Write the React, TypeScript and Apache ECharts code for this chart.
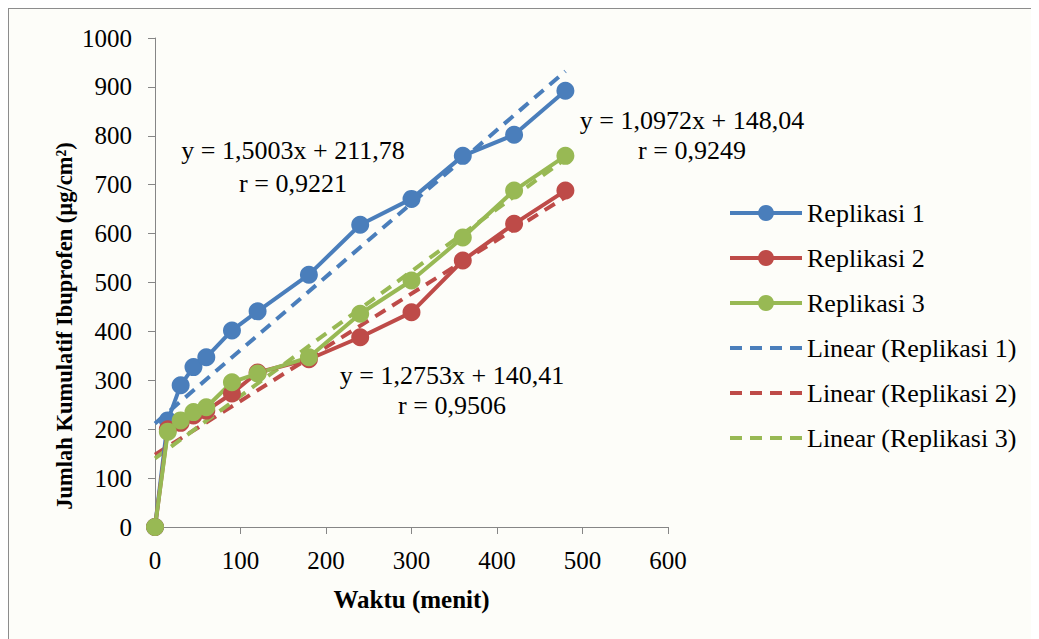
import React, { useEffect, useRef } from "react";
import * as echarts from "echarts";

const times = [0, 15, 30, 45, 60, 90, 120, 180, 240, 300, 360, 420, 480];
const replikasi1 = [0, 218, 290, 327, 347, 402, 441, 516, 618, 671, 759, 802, 892];
const replikasi2 = [0, 200, 213, 228, 238, 273, 316, 343, 388, 439, 545, 620, 688];
const replikasi3 = [0, 195, 218, 235, 245, 296, 314, 347, 436, 504, 592, 688, 759];

// trend line coefficients (slope, intercept) as printed on the chart
const fit1 = [1.5003, 211.78];
const fit2 = [1.0972, 148.04];
const fit3 = [1.2753, 140.41];
const fitRange = [0, 480];

const labels1 = ["y = 1,5003x + 211,78", "r = 0,9221"];
const labels2 = ["y = 1,0972x + 148,04", "r = 0,9249"];
const labels3 = ["y = 1,2753x + 140,41", "r = 0,9506"];
const yTitle = "Jumlah Kumulatif Ibuprofen (µg/cm²)";
const xTitle = "Waktu (menit)";

const BLUE = "#4a7ebb";
const RED = "#be4b48";
const GREEN = "#98b954";
const FONT = "Liberation Serif, Times New Roman, serif";

const pairs = (ys: number[]) => times.map((t, i) => [t, ys[i]]);
const fitLine = (f: number[]) => fitRange.map((x) => [x, f[0] * x + f[1]]);

export default function App() {
  const ref = useRef<HTMLDivElement>(null);
  useEffect(() => {
    if (!ref.current) return;
    const chart = echarts.init(ref.current, undefined, { renderer: "svg" });
    const solid = (name: string, color: string, ys: number[]) => ({
      name,
      type: "line",
      data: pairs(ys),
      symbol: "circle",
      symbolSize: 18,
      itemStyle: { color },
      lineStyle: { color, width: 4 },
      z: 3,
    });
    const dashed = (name: string, color: string, f: number[]) => ({
      name,
      type: "line",
      data: fitLine(f),
      symbol: "none",
      itemStyle: { color },
      lineStyle: { color, width: 4, type: [12, 8] },
      z: 2,
    });
    const txt = (x: number, y: number, s: string) => ({
      type: "text",
      x,
      y,
      style: {
        text: s,
        fontFamily: FONT,
        fontSize: 26,
        fill: "#000",
        align: "center",
        verticalAlign: "middle",
      },
    });
    chart.setOption({
      animation: false,
      backgroundColor: "#fdfdf9",
      textStyle: { fontFamily: FONT },
      grid: { left: 146, top: 29, width: 513, height: 489, containLabel: false },
      xAxis: {
        type: "value",
        min: 0,
        max: 600,
        interval: 100,
        name: xTitle,
        nameLocation: "middle",
        nameGap: 60,
        nameTextStyle: { fontFamily: FONT, fontSize: 25, fontWeight: "bold", color: "#000" },
        axisLine: { show: true, lineStyle: { color: "#868686", width: 1 } },
        axisTick: { show: true, length: 7, lineStyle: { color: "#868686" } },
        axisLabel: { fontFamily: FONT, fontSize: 25, color: "#000", margin: 21, formatter: (v: number) => String(v) },
        splitLine: { show: false },
      },
      yAxis: {
        type: "value",
        min: 0,
        max: 1000,
        interval: 100,
        axisLine: { show: true, lineStyle: { color: "#868686", width: 1 } },
        axisTick: { show: true, length: 7, lineStyle: { color: "#868686" } },
        axisLabel: { fontFamily: FONT, fontSize: 25, color: "#000", margin: 23, formatter: (v: number) => String(v) },
        splitLine: { show: false },
      },
      legend: {
        orient: "vertical",
        left: 714,
        top: 186,
        itemWidth: 72,
        itemHeight: 20,
        itemGap: 19,
        lineStyle: { width: 4 },
        textStyle: { fontFamily: FONT, fontSize: 26, color: "#000" },
        data: [
          { name: "Replikasi 1" },
          { name: "Replikasi 2" },
          { name: "Replikasi 3" },
          { name: "Linear (Replikasi 1)", itemStyle: { opacity: 0 } },
          { name: "Linear (Replikasi 2)", itemStyle: { opacity: 0 } },
          { name: "Linear (Replikasi 3)", itemStyle: { opacity: 0 } },
        ],
      },
      graphic: [
        {
          type: "text",
          x: 55,
          y: 317,
          rotation: Math.PI / 2,
          style: {
            text: yTitle,
            fontFamily: FONT,
            fontSize: 22.5,
            fontWeight: "bold",
            fill: "#000",
            align: "center",
            verticalAlign: "middle",
          },
        },
        txt(284, 141, labels1[0]),
        txt(284, 174, labels1[1]),
        txt(683, 111, labels2[0]),
        txt(683, 141, labels2[1]),
        txt(443, 366, labels3[0]),
        txt(443, 396, labels3[1]),
      ],
      series: [
        dashed("Linear (Replikasi 1)", BLUE, fit1),
        dashed("Linear (Replikasi 2)", RED, fit2),
        dashed("Linear (Replikasi 3)", GREEN, fit3),
        solid("Replikasi 1", BLUE, replikasi1),
        solid("Replikasi 2", RED, replikasi2),
        solid("Replikasi 3", GREEN, replikasi3),
      ],
    });
    return () => chart.dispose();
  }, []);
  return (
    <div
      ref={ref}
      style={{
        width: 1031,
        height: 631,
        boxSizing: "border-box",
        borderLeft: "1px solid #8c8c8c",
        borderTop: "1px solid #8c8c8c",
      }}
    />
  );
}
